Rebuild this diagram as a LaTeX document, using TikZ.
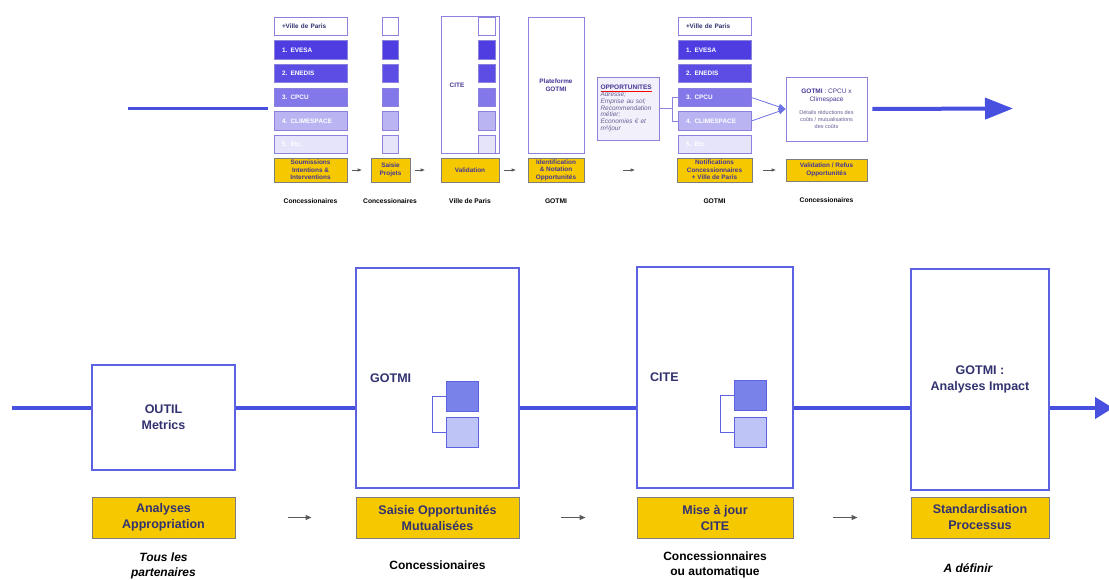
\documentclass[tikz,border=0pt]{standalone}
\usepackage{fontspec}
\setmainfont{Liberation Sans}
\usetikzlibrary{arrows.meta}
\definecolor{bl}{RGB}{72,80,224}
\definecolor{lav}{RGB}{140,130,222}
\definecolor{cA}{RGB}{78,62,226}
\definecolor{cB}{RGB}{92,78,228}
\definecolor{cC}{RGB}{130,120,234}
\definecolor{cD}{RGB}{186,181,242}
\definecolor{cE}{RGB}{230,228,250}
\definecolor{yel}{RGB}{245,200,0}
\definecolor{ybord}{RGB}{125,125,125}
\definecolor{navy}{RGB}{50,50,112}
\definecolor{purp}{RGB}{70,55,150}
\definecolor{softp}{RGB}{105,95,150}
\definecolor{sqa}{RGB}{120,130,232}
\definecolor{sqb}{RGB}{190,196,245}
\definecolor{bbord}{RGB}{92,98,226}
\definecolor{oppfill}{RGB}{242,240,250}
\begin{document}
\begin{tikzpicture}[x=1pt,y=-1pt,
  tiny/.style={font=\fontsize{6.4pt}{7.5pt}\selectfont\bfseries},
  vbox/.style={draw=lav, line width=0.8pt, minimum height=18.5pt, text width=57pt,
    inner xsep=8pt, inner ysep=0pt, align=left, tiny, text=white},
  sqr/.style={draw=lav, line width=0.8pt, minimum width=16pt, minimum height=18.5pt, inner sep=0pt},
  tall/.style={draw=lav, line width=0.8pt, fill=white, inner sep=0pt},
  ybox/.style={fill=yel, draw=ybord, line width=0.6pt, minimum height=24pt, inner sep=1pt,
    align=center, tiny, text=purp},
  tlab/.style={font=\fontsize{6.7pt}{8pt}\selectfont\bfseries, text=black},
  garrow/.style={draw=black!65, line width=0.7pt, -{Triangle[length=4pt,width=3pt]}},
  gbarrow/.style={draw=black!65, line width=1.2pt, -{Triangle[length=6pt,width=5pt]}},
  conn/.style={draw=lav, line width=0.8pt},
  mainline/.style={draw=bl, line width=4pt},
  bbox/.style={draw=bbord, line width=1.2pt, fill=white, inner sep=0pt, align=center,
    font=\fontsize{12.5pt}{16pt}\selectfont\bfseries, text=navy},
  bsq/.style={draw=bbord, line width=1pt, minimum width=32pt, minimum height=30pt, inner sep=0pt},
  byel/.style={fill=yel, draw=ybord, line width=1pt, minimum height=41pt, inner sep=0pt,
    align=center, font=\fontsize{12.5pt}{16pt}\selectfont\bfseries, text=navy},
  blab/.style={align=center, font=\fontsize{12pt}{15pt}\selectfont\bfseries, text=black}
]
\useasboundingbox (0,0) rectangle (1109,579);

% ---------------- top: column 1
\node[vbox, fill=white, text=navy] (a0) at (310.5,26.5) {+Ville de Paris};
\node[vbox, fill=cA] (a1) at (310.5,50) {1. EVESA};
\node[vbox, fill=cB] (a2) at (310.5,73.5) {2. ENEDIS};
\node[vbox, fill=cC] (a3) at (310.5,97.5) {3. CPCU};
\node[vbox, fill=cD] (a4) at (310.5,121) {4. CLIMESPACE};
\node[vbox, fill=cE] (a5) at (310.5,144.5) {5. Etc.};
\node[ybox, minimum width=73pt] (ya) at (310.5,170) {Soumissions\\Intentions \&\\Interventions};
\node[tlab] (la) at (310.5,201) {Concessionaires};

% column 2
\node[sqr, fill=white] (b0) at (390,26.5) {};
\node[sqr, fill=cA] (b1) at (390,50) {};
\node[sqr, fill=cB] (b2) at (390,73.5) {};
\node[sqr, fill=cC] (b3) at (390,97.5) {};
\node[sqr, fill=cD] (b4) at (390,121) {};
\node[sqr, fill=cE] (b5) at (390,144.5) {};
\node[ybox, minimum width=39pt] (yb) at (390.5,170) {Saisie\\Projets};
\node[tlab] (lb) at (390,201) {Concessionaires};

% column 3
\node[tall, minimum width=58pt, minimum height=137pt] (cbox) at (470,84.5) {};
\node[tiny, text=purp] (ctext) at (457,85) {CITE};
\node[sqr, minimum width=17pt, fill=white] (c0) at (486.5,26.5) {};
\node[sqr, minimum width=17pt, fill=cA] (c1) at (486.5,50) {};
\node[sqr, minimum width=17pt, fill=cB] (c2) at (486.5,73.5) {};
\node[sqr, minimum width=17pt, fill=cC] (c3) at (486.5,97.5) {};
\node[sqr, minimum width=17pt, fill=cD] (c4) at (486.5,121) {};
\node[sqr, minimum width=17pt, fill=cE] (c5) at (486.5,144.5) {};
\node[ybox, minimum width=58pt] (yc) at (470,170) {Validation};
\node[tlab] (lc) at (470,201) {Ville de Paris};

% column 4
\node[tall, minimum width=56pt, minimum height=136pt, align=center, tiny, text=purp] (dbox) at (556,85) {Plateforme\\GOTMI};
\node[ybox, minimum width=56pt] (yd) at (556,170) {Identification\\\& Notation\\Opportunités};
\node[tlab] (ld) at (556,201) {GOTMI};

% opportunites
\node[draw=lav, line width=0.8pt, fill=oppfill, minimum width=62pt, minimum height=63pt,
  text width=55pt, inner xsep=3.5pt, inner ysep=0pt, align=left,
  font=\fontsize{6.5pt}{6.8pt}\selectfont, text=softp] (opp) at (628,108.5)
  {{\color{red}\underline{\textcolor{purp}{\bfseries OPPORTUNITES}}}\\\itshape Adresse;\\Emprise au sol;\\Recommendation\\métier;\\Economies € et\\m²/jour};

% column 5
\node[vbox, fill=white, text=navy] (e0) at (714.5,26.5) {+Ville de Paris};
\node[vbox, fill=cA] (e1) at (714.5,50) {1. EVESA};
\node[vbox, fill=cB] (e2) at (714.5,73.5) {2. ENEDIS};
\node[vbox, fill=cC] (e3) at (714.5,97.5) {3. CPCU};
\node[vbox, fill=cD] (e4) at (714.5,121) {4. CLIMESPACE};
\node[vbox, fill=cE] (e5) at (714.5,144.5) {5. Etc.};
\node[ybox, minimum width=75pt] (ye) at (714.5,170) {Notifications\\Concessionnaires\\+ Ville de Paris};
\node[tlab] (le) at (714.5,201) {GOTMI};

% column 6
\node[tall, minimum width=81pt, minimum height=64pt, align=center,
  font=\fontsize{6.5pt}{7.2pt}\selectfont, text=purp] (g) at (826.5,109)
  {\textbf{GOTMI} : CPCU x\\Climespace\\[6pt]{\fontsize{5.5pt}{7.2pt}\selectfont\color{softp}Détails réductions des}\\{\fontsize{5.5pt}{7.2pt}\selectfont\color{softp}coûts / mutualisations}\\{\fontsize{5.5pt}{7.2pt}\selectfont\color{softp}des coûts}};
\node[ybox, minimum width=81pt, minimum height=22pt] (yf) at (826.5,170) {Validation / Refus\\Opportunités};
\node[tlab] (lf) at (826.5,200) {Concessionaires};

% top connectors
\coordinate (tl) at (128,108);
\draw[draw=bl, line width=3pt] (tl) -- ([xshift=-6pt]tl -| a0.west);
\draw[garrow, shorten <=5pt, shorten >=9pt] (ya.east) -- (yb.west);
\draw[garrow, shorten <=5pt, shorten >=16pt] (yb.east) -- (yc.west);
\draw[garrow, shorten <=5pt, shorten >=12pt] (yc.east) -- (yd.west);
\draw[garrow, shorten <=39pt, shorten >=42pt] (yd.east) -- (ye.west);
\draw[garrow, shorten <=11pt, shorten >=10pt] (ye.east) -- (yf.west);

\coordinate (jn) at (672,108.5);
\draw[conn] (opp.east) -- (jn);
\draw[conn] (e3.west) -- (e3.west -| jn) -- (e4.west -| jn) -- (e4.west);
\draw[conn, draw=bl!80, -{Triangle[length=7pt,width=6pt]}] (e3.east) -- (g.west);
\draw[conn, draw=bl!80, -{Triangle[length=7pt,width=6pt]}] (e4.east) -- (g.west);

\coordinate (tend) at (1013,108.5);
\draw[draw=bl, line width=4pt, shorten <=5pt, -{Triangle[length=28pt,width=21pt]}] (g.east) -- (tend);

% ---------------- bottom
\node[bbox, minimum width=143pt, minimum height=105pt] (outil) at (163.5,417.5) {OUTIL\\Metrics};
\node[bbox, minimum width=163pt, minimum height=220pt] (gotmi) at (437.5,378) {};
\node[bbox, minimum width=156pt, minimum height=221pt] (cite) at (715,377.5) {};
\node[bbox, minimum width=138pt, minimum height=221pt] (ga) at (980,379.5) {GOTMI :\\Analyses Impact};

\node[anchor=west, font=\fontsize{12.5pt}{16pt}\selectfont\bfseries, text=navy, inner sep=0pt] (gotmit) at (370,378) {GOTMI};
\node[bsq, fill=sqa] (gs1) at (462,396) {};
\node[bsq, fill=sqb] (gs2) at (462,432) {};
\draw[draw=bbord, line width=1pt] (gs1.west) -- ++(-13,0) |- (gs2.west);

\node[anchor=west, font=\fontsize{12.5pt}{16pt}\selectfont\bfseries, text=navy, inner sep=0pt] (citet) at (650,377) {CITE};
\node[bsq, fill=sqa] (cs1) at (750,395) {};
\node[bsq, fill=sqb] (cs2) at (750,432) {};
\draw[draw=bbord, line width=1pt] (cs1.west) -- ++(-13,0) |- (cs2.west);

\coordinate (b0) at (12,408);
\coordinate (bend) at (1113,408);
\draw[mainline] (b0) -- (b0 -| outil.west);
\draw[mainline] (b0 -| outil.east) -- (b0 -| gotmi.west);
\draw[mainline] (b0 -| gotmi.east) -- (b0 -| cite.west);
\draw[mainline] (b0 -| cite.east) -- (b0 -| ga.west);
\draw[mainline, -{Triangle[length=18pt,width=21pt]}] (b0 -| ga.east) -- (bend);

\node[byel, minimum width=143pt] (y1) at (163.5,517.5) {Analyses\\Appropriation};
\node[byel, minimum width=163pt] (y2) at (437.5,517.5) {Saisie Opportunités\\Mutualisées};
\node[byel, minimum width=156pt] (y3) at (715,517.5) {Mise à jour\\CITE};
\node[byel, minimum width=138pt] (y4) at (980,517.5) {Standardisation\\Processus};

\draw[gbarrow, shorten <=52pt, shorten >=44pt] (y1.east) -- (y2.west);
\draw[gbarrow, shorten <=41pt, shorten >=51pt] (y2.east) -- (y3.west);
\draw[gbarrow, shorten <=39pt, shorten >=53pt] (y3.east) -- (y4.west);

\node[blab, font=\fontsize{12pt}{15pt}\selectfont\bfseries\itshape] (l1) at (163.5,565.5) {Tous les\\partenaires};
\node[blab] (l2) at (437.5,565) {Concessionaires};
\node[blab] (l3) at (715,565) {Concessionnaires\\ou automatique};
\node[blab, font=\fontsize{12pt}{15pt}\selectfont\bfseries\itshape] (l4) at (968,568) {A définir};
\end{tikzpicture}
\end{document}
